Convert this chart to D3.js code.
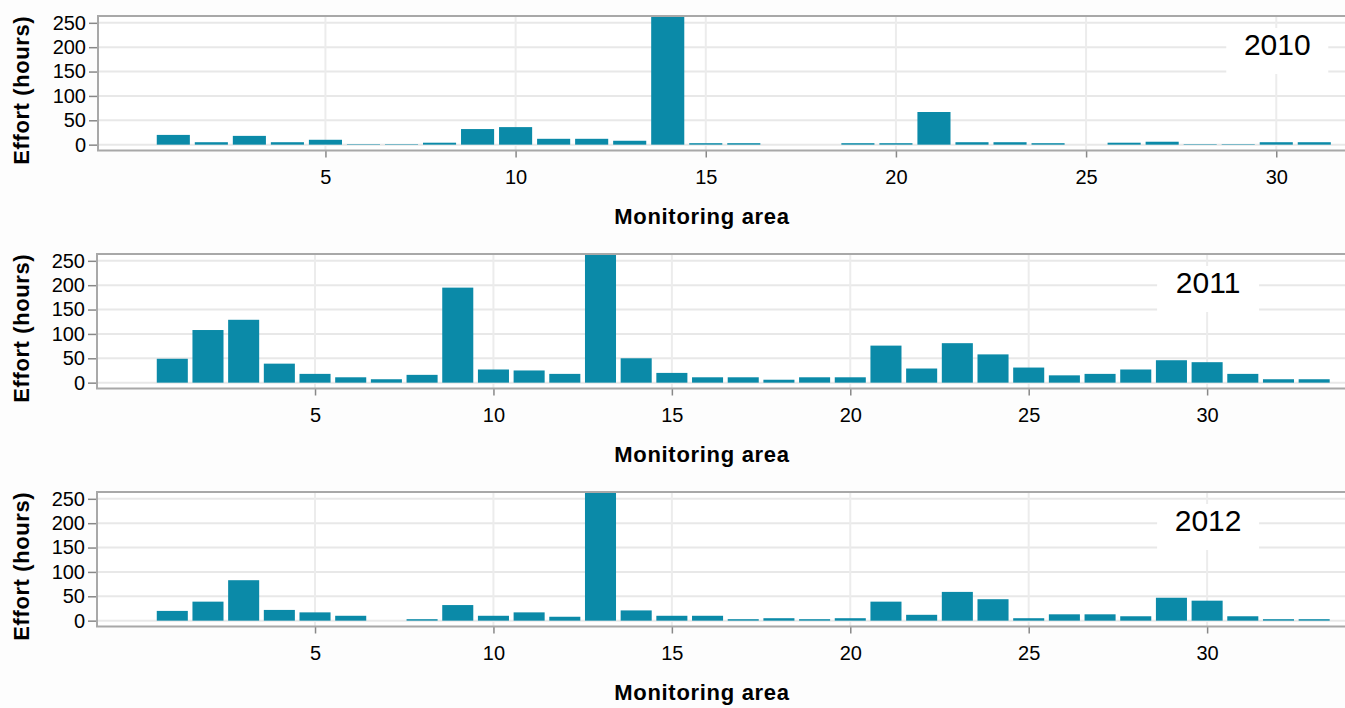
<!DOCTYPE html>
<html>
<head>
<meta charset="utf-8">
<script src="https://cdn.jsdelivr.net/npm/d3@7"></script>
<style>
  body { margin: 0; background: #fff; }
  svg { display: block; font-family: "Liberation Sans", Arial, sans-serif; }
</style>
</head>
<body>
<div class="chart"></div>
<script>
// effort per monitoring area, one pair of arrays per year
var areas2010 = [1, 2, 3, 4, 5, 6, 7, 8, 9, 10, 11, 12, 13, 14, 15, 16, 17, 18, 19, 20, 21, 22, 23, 24, 25, 26, 27, 28, 29, 30, 31];
var effort2010 = [20, 5, 18, 5, 10, 1, 1, 4, 32, 36, 12, 12, 8, 310, 3, 3, 0, 0, 3, 3, 67, 5, 5, 3, 0, 4, 6, 1, 1, 5, 5];

var areas2011 = [1, 2, 3, 4, 5, 6, 7, 8, 9, 10, 11, 12, 13, 14, 15, 16, 17, 18, 19, 20, 21, 22, 23, 24, 25, 26, 27, 28, 29, 30, 31, 32, 33];
var effort2011 = [49, 108, 129, 39, 18, 11, 7, 16, 195, 27, 25, 18, 300, 50, 20, 11, 11, 6, 11, 11, 76, 29, 81, 58, 31, 15, 18, 27, 46, 42, 18, 7, 7];

var areas2012 = [1, 2, 3, 4, 5, 6, 7, 8, 9, 10, 11, 12, 13, 14, 15, 16, 17, 18, 19, 20, 21, 22, 23, 24, 25, 26, 27, 28, 29, 30, 31, 32, 33];
var effort2012 = [20, 39, 83, 22, 17, 10, 0, 3, 32, 10, 17, 8, 300, 21, 10, 10, 3, 5, 3, 5, 39, 12, 59, 44, 5, 13, 13, 9, 47, 41, 9, 3, 3];

var years = ["2010", "2011", "2012"];
var yTicks = [0, 50, 100, 150, 200, 250];
var xTicks = [5, 10, 15, 20, 25, 30];
var yearLabelArea = 30;
var yLabel = "Effort (hours)";
var xLabel = "Monitoring area";

var W = 1345, H = 708;
var barColor = "#0b8aa8";

var panels = [
  { areas: areas2010, effort: effort2010, year: years[0], top: 16, left: 98, xDomain: [-0.98, 31.86] },
  { areas: areas2011, effort: effort2011, year: years[1], top: 254, left: 97, xDomain: [-1.11, 33.92] },
  { areas: areas2012, effort: effort2012, year: years[2], top: 492, left: 97, xDomain: [-1.11, 33.92] }
];
var plotH = 134.5;

const svg = d3
  .select(".chart")
  .append("svg")
  .attr("width", W)
  .attr("height", H);

svg.append("rect").attr("width", W).attr("height", H).attr("fill", "#fdfdfd");

panels.forEach(function (p, pi) {
  var width = W + 2 - p.left;
  var data = p.areas.map(function (a, i) { return { area: a, effort: p.effort[i] }; });

  var x = d3.scaleLinear().domain(p.xDomain).range([0, width]);
  var y = d3.scaleLinear().domain([-12, 264]).range([plotH, 0]);

  const g = svg.append("g")
    .attr("transform", "translate(" + p.left + "," + p.top + ")");

  g.append("rect").attr("width", width).attr("height", plotH).attr("fill", "#fff");

  //grid
  g.selectAll(".hgrid").data(yTicks).enter().append("line")
    .attr("x1", 0).attr("x2", width)
    .attr("y1", (d) => y(d)).attr("y2", (d) => y(d))
    .attr("stroke", "#e8e8e8").attr("stroke-width", 2);
  g.selectAll(".vgrid").data(xTicks).enter().append("line")
    .attr("x1", (d) => x(d)).attr("x2", (d) => x(d))
    .attr("y1", 0).attr("y2", plotH)
    .attr("stroke", "#ececec").attr("stroke-width", 2);

  //year label with white box
  var lx = x(yearLabelArea);
  g.append("rect")
    .attr("x", lx - 50).attr("y", 12)
    .attr("width", 102).attr("height", 46)
    .attr("fill", "#fff");
  g.append("text")
    .attr("x", lx + 1).attr("y", 39)
    .attr("text-anchor", "middle")
    .attr("font-size", 30)
    .attr("fill", "#000")
    .text(p.year);

  //bars
  g.append("clipPath").attr("id", "clip" + pi)
    .append("rect").attr("width", width).attr("height", plotH);

  g.append("g").attr("clip-path", "url(#clip" + pi + ")")
    .selectAll("rect")
    .data(data.filter((d) => d.effort > 0))
    .enter()
    .append("rect")
    .attr("x", (d) => x(d.area - 0.435))
    .attr("width", (d) => x(d.area + 0.435) - x(d.area - 0.435))
    .attr("y", (d) => y(d.effort))
    .attr("height", (d) => y(0) - y(d.effort))
    .attr("fill", barColor);

  //axes
  var yAxis = g.append("g")
    .call(d3.axisLeft(y).tickValues(yTicks).tickSize(9).tickPadding(3));
  var xAxis = g.append("g")
    .attr("transform", "translate(0," + plotH + ")")
    .call(d3.axisBottom(x).tickValues(xTicks).tickSize(7).tickPadding(12));

  [yAxis, xAxis].forEach(function (ax) {
    ax.select(".domain").remove();
    ax.selectAll(".tick line").attr("stroke", "#888").attr("stroke-width", 1.5);
    ax.selectAll(".tick text")
      .attr("fill", "#000")
      .attr("font-size", 20)
      .attr("font-family", "Liberation Sans, Arial, sans-serif");
  });

  //frame: top, left, bottom
  g.append("path")
    .attr("d", "M" + width + ",0H0V" + plotH + "H" + width)
    .attr("fill", "none")
    .attr("stroke", "#a8a8a8")
    .attr("stroke-width", 2);

  //axis titles
  svg.append("text")
    .attr("transform", "translate(29," + (p.top + plotH / 2 + 7) + ") rotate(-90)")
    .attr("text-anchor", "middle")
    .attr("font-size", 22)
    .attr("font-weight", "bold")
    .attr("letter-spacing", 0.6)
    .text(yLabel);

  svg.append("text")
    .attr("x", 702)
    .attr("y", p.top + plotH + 73)
    .attr("text-anchor", "middle")
    .attr("font-size", 22)
    .attr("font-weight", "bold")
    .attr("letter-spacing", 0.7)
    .text(xLabel);
});
</script>
</body>
</html>
